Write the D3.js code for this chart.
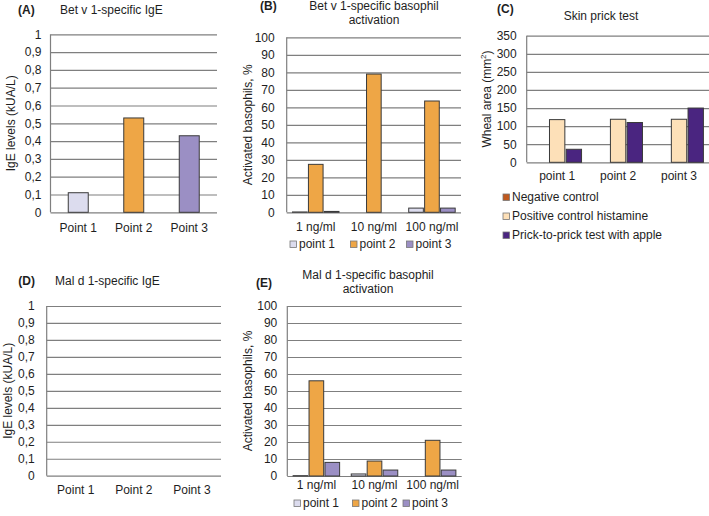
<!DOCTYPE html>
<html>
<head>
<meta charset="utf-8">
<script src="https://cdn.jsdelivr.net/npm/d3@7"></script>
<style>
  html, body { margin: 0; padding: 0; background: #fff; }
  svg { display: block; font-family: "Liberation Sans", Arial, sans-serif; }
</style>
</head>
<body>
<svg id="chart" width="709" height="516"></svg>
<script>
// ---------- DATA ----------
const igeCategories = ["Point 1", "Point 2", "Point 3"];
const betIgeValues = [0.11, 0.53, 0.43];
const malIgeValues = [0, 0, 0];
const igeTicks = [0, 0.1, 0.2, 0.3, 0.4, 0.5, 0.6, 0.7, 0.8, 0.9, 1];

const concCategories = ["1 ng/ml", "10 ng/ml", "100 ng/ml"];
const pointSeries = ["point 1", "point 2", "point 3"];
const betBasoPoint1 = [0.2, 0, 2.4];
const betBasoPoint2 = [27.4, 79, 63.6];
const betBasoPoint3 = [0.5, 0, 2.4];
const malBasoPoint1 = [0.2, 1.2, 0];
const malBasoPoint2 = [56, 8.8, 21];
const malBasoPoint3 = [8, 3.5, 3.5];
const basoTicks = [0, 10, 20, 30, 40, 50, 60, 70, 80, 90, 100];

const sptCategories = ["point 1", "point 2", "point 3"];
const sptSeries = ["Negative control", "Positive control histamine", "Prick-to-prick test with apple"];
const sptNegative = [0, 0, 0];
const sptPositive = [118, 119, 119];
const sptApple = [36, 110, 150];
const sptTicks = [0, 50, 100, 150, 200, 250, 300, 350];

// ---------- STYLE ----------
const pointColors = ["#dcdcee", "#eea646", "#9b8fc4"];
const sptColors = ["#c0591e", "#fde0b8", "#4a2580"];
const gridColor = "#7f7f7f";
const barStroke = "#3a3a3a";
const textColor = "#1e1e1e";
const FS = 12;

const svg = d3.select("#chart");

function panel(opt) {
  const g = svg.append("g");
  const x = d3.scaleBand().domain(opt.categories).range([opt.left, opt.right]);
  const y = d3.scaleLinear().domain(opt.domain).range([opt.bottom, opt.top]);

  // gridlines
  const yAxis = d3.axisLeft(y).tickValues(opt.ticks).tickSize(-(opt.right - opt.left))
    .tickPadding(opt.tickGap).tickFormat(opt.fmt);
  const ga = g.append("g").attr("transform", `translate(${opt.left},0)`).call(yAxis);
  ga.select(".domain").remove();
  ga.selectAll(".tick line").attr("stroke", gridColor).attr("stroke-width", 1.2);
  ga.selectAll(".tick text").attr("fill", textColor).style("font-size", FS + "px")
    .style("font-family", "Liberation Sans, Arial, sans-serif");
  // left axis line
  g.append("line").attr("x1", opt.left).attr("x2", opt.left)
    .attr("y1", opt.top).attr("y2", opt.bottom)
    .attr("stroke", gridColor).attr("stroke-width", 1.2);

  // bars
  const series = opt.series;
  const x1 = d3.scaleBand().domain(d3.range(series.length))
    .range([0, x.bandwidth() * opt.groupFrac]).paddingInner(opt.innerPad);
  const offset = (x.bandwidth() - x.bandwidth() * opt.groupFrac) / 2;
  series.forEach((s, si) => {
    s.values.forEach((v, ci) => {
      if (!(v > 0)) return;
      g.append("rect")
        .attr("x", x(opt.categories[ci]) + offset + x1(si))
        .attr("y", y(v))
        .attr("width", x1.bandwidth())
        .attr("height", y(0) - y(v))
        .attr("fill", s.colors ? s.colors[ci] : s.color)
        .attr("stroke", barStroke).attr("stroke-width", 1);
    });
  });

  // x labels
  const xAxis = d3.axisBottom(x).tickSize(0).tickPadding(0);
  const gx = g.append("g").attr("transform", `translate(0,${opt.xLabelY})`).call(xAxis);
  gx.select(".domain").remove();
  gx.selectAll(".tick text").attr("dy", 0).attr("fill", textColor)
    .style("font-size", FS + "px").style("font-family", "Liberation Sans, Arial, sans-serif");

  // y title
  g.append("text")
    .attr("transform", `translate(${opt.yTitleX},${(opt.top + opt.bottom) / 2}) rotate(-90)`)
    .attr("text-anchor", "middle").attr("dy", "0.35em")
    .attr("fill", textColor).style("font-size", FS + "px")
    .html(opt.yTitle);

  // panel letter
  g.append("text").attr("x", opt.letterX).attr("y", opt.letterY)
    .attr("fill", textColor).style("font-size", FS + "px").style("font-weight", "bold")
    .text(opt.letter);

  // title
  opt.title.forEach((t, i) => {
    g.append("text").attr("x", opt.titleX).attr("y", opt.titleY + i * 14)
      .attr("text-anchor", opt.titleAnchor)
      .attr("fill", textColor).style("font-size", FS + "px").text(t);
  });

  // legend
  if (opt.legend) {
    opt.legend.items.forEach((it, i) => {
      const lx = opt.legend.xs[i], ly = opt.legend.ys[i];
      g.append("rect").attr("x", lx).attr("y", ly - 7).attr("width", 6.5).attr("height", 6.5)
        .attr("fill", it.color).attr("stroke", "#777").attr("stroke-width", 0.8);
      g.append("text").attr("x", lx + 9).attr("y", ly)
        .attr("fill", textColor).style("font-size", FS + "px").text(it.name);
    });
  }
}

const commaFmt = d => d3.format(".1~f")(d).replace(".", ",");

// (A)
panel({
  categories: igeCategories, domain: [0, 1], ticks: igeTicks, fmt: commaFmt,
  left: 50.5, right: 217, top: 34.3, bottom: 212.3, tickGap: 9,
  series: [{ values: betIgeValues, colors: pointColors }],
  groupFrac: 0.36, innerPad: 0,
  xLabelY: 232, yTitle: "IgE levels (kUA/L)", yTitleX: 10.5,
  letter: "(A)", letterX: 18, letterY: 13.5,
  title: ["Bet v 1-specific IgE"], titleX: 60, titleY: 13.5, titleAnchor: "start"
});

// (B)
panel({
  categories: concCategories, domain: [0, 100], ticks: basoTicks, fmt: d3.format("d"),
  left: 286.7, right: 461, top: 37.3, bottom: 212.3, tickGap: 12,
  series: pointSeries.map((s, i) => ({ name: s, color: pointColors[i],
    values: [betBasoPoint1, betBasoPoint2, betBasoPoint3][i] })),
  groupFrac: 0.8, innerPad: 0.08,
  xLabelY: 230.5, yTitle: "Activated basophils, %", yTitleX: 248,
  letter: "(B)", letterX: 260, letterY: 10,
  title: ["Bet v 1-specific basophil", "activation"], titleX: 374, titleY: 10, titleAnchor: "middle",
  legend: { items: pointSeries.map((s, i) => ({ name: s, color: pointColors[i] })),
    xs: [290, 350.5, 406.5], ys: [248, 248, 248] }
});

// (C)
panel({
  categories: sptCategories, domain: [0, 350], ticks: sptTicks, fmt: d3.format("d"),
  left: 526.7, right: 709.5, top: 35.7, bottom: 162.3, tickGap: 10,
  series: sptSeries.map((s, i) => ({ name: s, color: sptColors[i],
    values: [sptNegative, sptPositive, sptApple][i] })),
  groupFrac: 0.8, innerPad: 0.08,
  xLabelY: 180, yTitle: "Wheal area (mm<tspan dy='-5' font-size='8'>2</tspan><tspan dy='5'>)</tspan>", yTitleX: 486.7,
  letter: "(C)", letterX: 497, letterY: 13,
  title: ["Skin prick test"], titleX: 601, titleY: 20, titleAnchor: "middle",
  legend: { items: sptSeries.map((s, i) => ({ name: s, color: sptColors[i] })),
    xs: [503, 503, 503], ys: [201, 220, 239] }
});

// (D)
panel({
  categories: igeCategories, domain: [0, 1], ticks: igeTicks, fmt: commaFmt,
  left: 46.7, right: 221, top: 306, bottom: 475.7, tickGap: 12,
  series: [{ values: malIgeValues, colors: pointColors }],
  groupFrac: 0.36, innerPad: 0,
  xLabelY: 494, yTitle: "IgE levels (kUA/L)", yTitleX: 7.5,
  letter: "(D)", letterX: 18.3, letterY: 285,
  title: ["Mal d 1-specific IgE"], titleX: 55, titleY: 285, titleAnchor: "start"
});

// (E)
panel({
  categories: concCategories, domain: [0, 100], ticks: basoTicks, fmt: d3.format("d"),
  left: 287.3, right: 461.7, top: 306, bottom: 476, tickGap: 10,
  series: pointSeries.map((s, i) => ({ name: s, color: pointColors[i],
    values: [malBasoPoint1, malBasoPoint2, malBasoPoint3][i] })),
  groupFrac: 0.8, innerPad: 0.08,
  xLabelY: 489, yTitle: "Activated basophils, %", yTitleX: 248,
  letter: "(E)", letterX: 256, letterY: 286.5,
  title: ["Mal d 1-specific basophil", "activation"], titleX: 368, titleY: 279, titleAnchor: "middle",
  legend: { items: pointSeries.map((s, i) => ({ name: s, color: pointColors[i] })),
    xs: [294, 352.5, 403], ys: [507, 507, 507] }
});
</script>
</body>
</html>
